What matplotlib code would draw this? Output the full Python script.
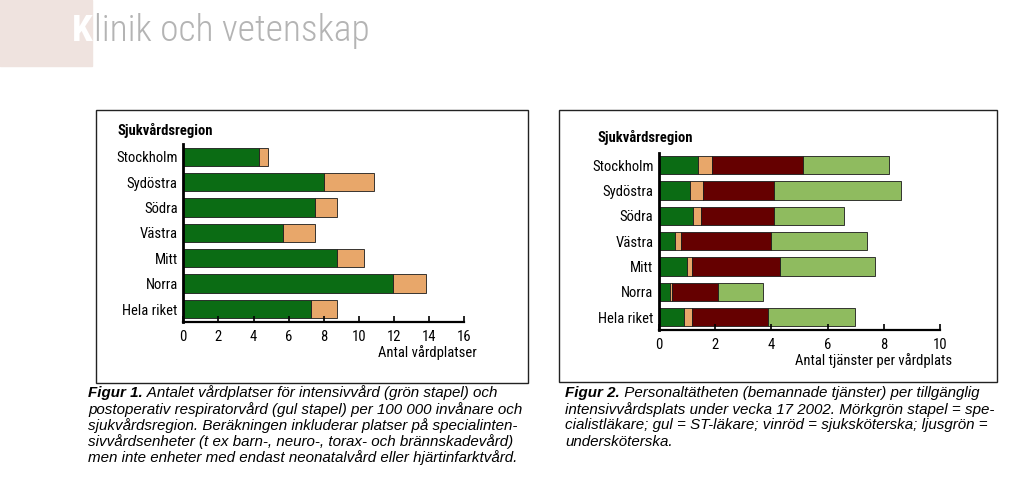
"""Intensive care beds and staffing per region (two stacked bar panels)."""

import matplotlib

matplotlib.use("Agg")
import matplotlib.pyplot as plt
from matplotlib.patches import Rectangle

W, H = 1024, 479

REGIONS = ["Stockholm", "Sydöstra", "Södra", "Västra", "Mitt", "Norra", "Hela riket"]

# Figur 1: beds per 100 000 inhabitants
IVA_BEDS = [4.3, 8.0, 7.5, 5.67, 8.73, 11.92, 7.25]
POSTOP_BEDS = [0.55, 2.87, 1.27, 1.83, 1.54, 1.92, 1.52]

# Figur 2: staffed positions per bed
SPECIALIST = [1.40, 1.10, 1.20, 0.58, 1.01, 0.39, 0.90]
ST_DOCTOR = [0.47, 0.47, 0.28, 0.20, 0.15, 0.08, 0.26]
NURSE = [3.24, 2.53, 2.62, 3.21, 3.15, 1.62, 2.73]
ASSISTANT = [3.09, 4.50, 2.50, 3.40, 3.39, 1.60, 3.10]

DARK_GREEN = "#0b6c14"
TAN = "#e8a76a"
WINE = "#650000"
LIGHT_GREEN = "#8fbb5f"

FONT = ["Roboto Condensed", "Archivo Narrow", "Asap Condensed", "DejaVu Sans"]
CAPTION_FONT = ["Liberation Sans", "DejaVu Sans"]

plt.rcParams["font.family"] = FONT


def px_axes(fig, x0, y0, x1, y1):
    return fig.add_axes([x0 / W, 1 - y1 / H, (x1 - x0) / W, (y1 - y0) / H])


def px_box(fig, x0, y0, x1, y1):
    fig.patches.append(
        Rectangle((x0 / W, 1 - y1 / H), (x1 - x0) / W, (y1 - y0) / H,
                  transform=fig.transFigure, fill=False, ec="#222222", lw=1.0)
    )


def style_axes(ax, xmax, step, xlabel, label_x, label_y):
    ax.set_xlim(0, xmax)
    ax.set_ylim(len(REGIONS) - 0.5, -0.5)
    ax.set_yticks(range(len(REGIONS)))
    ax.set_yticklabels(REGIONS, fontsize=10.5)
    ax.set_xticks(range(0, xmax + 1, step))
    ax.tick_params(axis="x", direction="in", length=4, width=1.2, labelsize=10.5, pad=6)
    ax.tick_params(axis="y", length=0, pad=4)
    for s in ("top", "right"):
        ax.spines[s].set_visible(False)
    ax.spines["left"].set_linewidth(2.0)
    ax.spines["bottom"].set_linewidth(1.6)
    ax.text(label_x, label_y, xlabel, transform=ax.figure.transFigure,
            ha="right", va="center", fontsize=10.5)


fig = plt.figure(figsize=(W / 100, H / 100), dpi=100)
fig.canvas.draw()
renderer = fig.canvas.get_renderer()

# header
fig.patches.append(Rectangle((0, 1 - 66 / H), 92 / W, 66 / H, transform=fig.transFigure,
                             color="#efe3df", zorder=0))
HEAD_FONT = ["Roboto Condensed", "Barlow Condensed", "DejaVu Sans"]
k = fig.text(72 / W, 1 - 31 / H, "K", color="white", fontsize=24, fontweight="bold",
             va="center", ha="left", family=HEAD_FONT)
rest = fig.text(0, 1 - 31 / H, "linik och vetenskap", color="#b4b4b4", fontsize=24,
                fontweight="light", va="center", ha="left", family=HEAD_FONT)
# scale header so the whole word spans about 72..368 px
total = k.get_window_extent(renderer).width + rest.get_window_extent(renderer).width
size = 24 * 296 / total
k.set_fontsize(size)
rest.set_fontsize(size)
rest.set_x((72 + k.get_window_extent(renderer).width + 1) / W)

# ---- Figur 1
px_box(fig, 96, 110, 528, 383)
ax1 = px_axes(fig, 183.3, 144, 464.3, 321.7)
left = [0] * len(REGIONS)
for vals, col in ((IVA_BEDS, DARK_GREEN), (POSTOP_BEDS, TAN)):
    ax1.barh(range(len(REGIONS)), vals, left=left, height=0.72, color=col,
             edgecolor="#1a1a1a", lw=0.6)
    left = [a + b for a, b in zip(left, vals)]
style_axes(ax1, 16, 2, "Antal vårdplatser", 477 / W, 1 - 353 / H)
fig.text(118 / W, 1 - 130 / H, "Sjukvårdsregion", fontsize=10.5, fontweight="bold",
         va="center", ha="left")

# ---- Figur 2
px_box(fig, 559, 110, 997, 382)
ax2 = px_axes(fig, 659, 152.5, 940, 330)
left = [0] * len(REGIONS)
for vals, col in ((SPECIALIST, DARK_GREEN), (ST_DOCTOR, TAN), (NURSE, WINE),
                  (ASSISTANT, LIGHT_GREEN)):
    ax2.barh(range(len(REGIONS)), vals, left=left, height=0.72, color=col,
             edgecolor="#1a1a1a", lw=0.6)
    left = [a + b for a, b in zip(left, vals)]
style_axes(ax2, 10, 2, "Antal tjänster per vårdplats", 952 / W, 1 - 361 / H)
fig.text(597 / W, 1 - 138 / H, "Sjukvårdsregion", fontsize=10.5, fontweight="bold",
         va="center", ha="left")

# ---- captions
CAP1 = [
    ("Figur 1.", " Antalet vårdplatser för intensivvård (grön stapel) och"),
    ("", "postoperativ respiratorvård (gul stapel) per 100 000 invånare och"),
    ("", "sjukvårdsregion. Beräkningen inkluderar platser på specialinten-"),
    ("", "sivvårdsenheter (t ex barn-, neuro-, torax- och brännskadevård)"),
    ("", "men inte enheter med endast neonatalvård eller hjärtinfarktvård."),
]
CAP2 = [
    ("Figur 2.", " Personaltätheten (bemannade tjänster) per tillgänglig"),
    ("", "intensivvårdsplats under vecka 17 2002. Mörkgrön stapel = spe-"),
    ("", "cialistläkare; gul = ST-läkare; vinröd = sjuksköterska; ljusgrön ="),
    ("", "undersköterska."),
]


def caption(lines, x0, y0):
    for i, (bold, rest) in enumerate(lines):
        y = 1 - (y0 + i * 16.2) / H
        x = x0
        if bold:
            t = fig.text(x / W, y, bold, fontsize=10.9, style="italic", fontweight="bold",
                         family=CAPTION_FONT, va="center", ha="left")
            x += t.get_window_extent(renderer).width
        fig.text(x / W, y, rest, fontsize=10.9, style="italic", family=CAPTION_FONT,
                 va="center", ha="left")


caption(CAP1, 88, 393)
caption(CAP2, 565, 393)

fig.savefig("out.png", dpi=100)
